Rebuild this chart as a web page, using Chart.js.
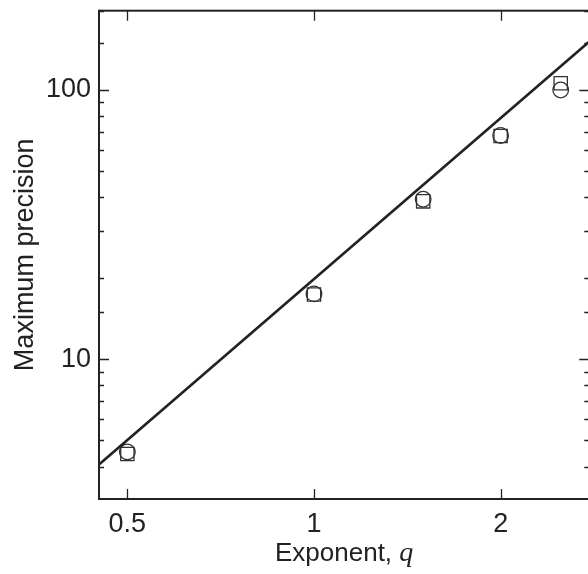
<!DOCTYPE html>
<html>
<head>
<meta charset="utf-8">
<script src="https://cdn.jsdelivr.net/npm/chart.js@4.4.1/dist/chart.umd.min.js"></script>
<style>
  html, body { margin: 0; padding: 0; background: #fff; overflow: hidden; }
  #wrap { width: 588px; height: 574px; overflow: hidden; }
</style>
</head>
<body>
<div id="wrap"><canvas id="myChart" width="600" height="574"></canvas></div>
<script>
const exponents = [0.5, 1, 1.5, 2, 2.5];
const circleValues = [4.53, 17.5, 39.3, 67.8, 100];
const squareValues = [4.45, 17.4, 38.6, 67.5, 106];

// power-law fit, given by its two ends (clipped to the axes)
const fitQ = [0.4, 3.0];
const fitValues = [3.22, 176];

const xTickValues = [0.5, 1, 2];
const yLabelValues = [10, 100];

const ink = '#222';
const font = 'Liberation Sans, Arial, Helvetica, sans-serif';

function points(xs, ys) {
    return xs.map(function (x, i) { return { x: x, y: ys[i] }; });
}

// frame with inward ticks on all four sides
const framePlugin = {
    id: 'frame',
    afterDraw: function (chart) {
        const ctx = chart.ctx;
        const a = chart.chartArea;
        const xs = chart.scales.x;
        const ys = chart.scales.y;
        ctx.save();
        ctx.strokeStyle = ink;
        ctx.lineWidth = 2;
        ctx.strokeRect(a.left, a.top, a.right - a.left, a.bottom - a.top);

        ctx.lineWidth = 1.3;
        ctx.beginPath();
        xTickValues.forEach(function (v) {
            const px = Math.round(xs.getPixelForValue(v)) + 0.5;
            ctx.moveTo(px, a.bottom); ctx.lineTo(px, a.bottom - 10);
            ctx.moveTo(px, a.top); ctx.lineTo(px, a.top + 10);
        });
        ys.ticks.forEach(function (t) {
            const major = Math.abs(Math.log10(t.value) - Math.round(Math.log10(t.value))) < 1e-9;
            const len = major ? 10 : 5;
            const py = Math.round(ys.getPixelForValue(t.value)) + 0.5;
            if (py < a.top || py > a.bottom) return;
            ctx.moveTo(a.left, py); ctx.lineTo(a.left + len, py);
            ctx.moveTo(a.right, py); ctx.lineTo(a.right - len, py);
        });
        ctx.stroke();

        // x axis title with italic q
        const cx = (a.left + a.right) / 2;
        const base = 561;
        const sans = '26px ' + font;
        const serif = 'italic 28px "Liberation Serif", "Times New Roman", serif';
        ctx.fillStyle = ink;
        ctx.textBaseline = 'alphabetic';
        ctx.textAlign = 'left';
        ctx.font = sans;
        const t1 = 'Exponent, ';
        const w1 = ctx.measureText(t1).width;
        ctx.font = serif;
        const w2 = ctx.measureText('q').width;
        const x0 = cx - (w1 + w2) / 2;
        ctx.font = sans;
        ctx.fillText(t1, x0, base);
        ctx.font = serif;
        ctx.fillText('q', x0 + w1, base);
        ctx.restore();
    }
};

new Chart(document.getElementById('myChart'), {
    data: {
        datasets: [{
            type: 'line',
            data: points(fitQ, fitValues),
            borderColor: ink,
            borderWidth: 2.6,
            pointRadius: 0,
            fill: false
        }, {
            type: 'scatter',
            data: points(exponents, circleValues),
            pointStyle: 'circle',
            pointRadius: 7.8,
            pointBorderWidth: 1.3,
            pointBorderColor: '#333',
            pointBackgroundColor: 'rgba(0,0,0,0)'
        }, {
            type: 'scatter',
            data: points(exponents, squareValues),
            pointStyle: 'rect',
            pointRadius: 9.4,
            pointBorderWidth: 1.3,
            pointBorderColor: '#333',
            pointBackgroundColor: 'rgba(0,0,0,0)'
        }]
    },
    options: {
        responsive: false,
        animation: false,
        events: [],
        layout: { padding: { left: 0, top: 4, right: 9, bottom: 0 } },
        plugins: { legend: { display: false }, tooltip: { enabled: false } },
        scales: {
            x: {
                type: 'logarithmic',
                min: 0.45,
                max: 2.78,
                grid: { display: false, drawTicks: false },
                border: { display: false },
                afterBuildTicks: function (scale) {
                    scale.ticks = xTickValues.map(function (v) { return { value: v }; });
                },
                afterFit: function (scale) {
                    scale.height = 75;
                    scale.paddingLeft = 0;
                    scale.paddingRight = 0;
                },
                ticks: {
                    autoSkip: false,
                    maxRotation: 0,
                    padding: 9,
                    color: ink,
                    font: { family: font, size: 27 },
                    callback: function (v) { return String(v); }
                }
            },
            y: {
                type: 'logarithmic',
                min: 3.03,
                max: 197,
                grid: { display: false, drawTicks: false },
                border: { display: false },
                afterFit: function (scale) {
                    scale.width = 99;
                    scale.paddingTop = 0;
                    scale.paddingBottom = 0;
                },
                ticks: {
                    autoSkip: false,
                    padding: 8,
                    color: ink,
                    font: { family: font, size: 27 },
                    callback: function (v) {
                        return yLabelValues.indexOf(v) >= 0 ? String(v) : '';
                    }
                },
                title: {
                    display: true,
                    text: 'Maximum precision',
                    color: ink,
                    font: { family: font, size: 27 },
                    padding: { top: 9, bottom: 0 }
                }
            }
        }
    },
    plugins: [framePlugin]
});
</script>
</body>
</html>
